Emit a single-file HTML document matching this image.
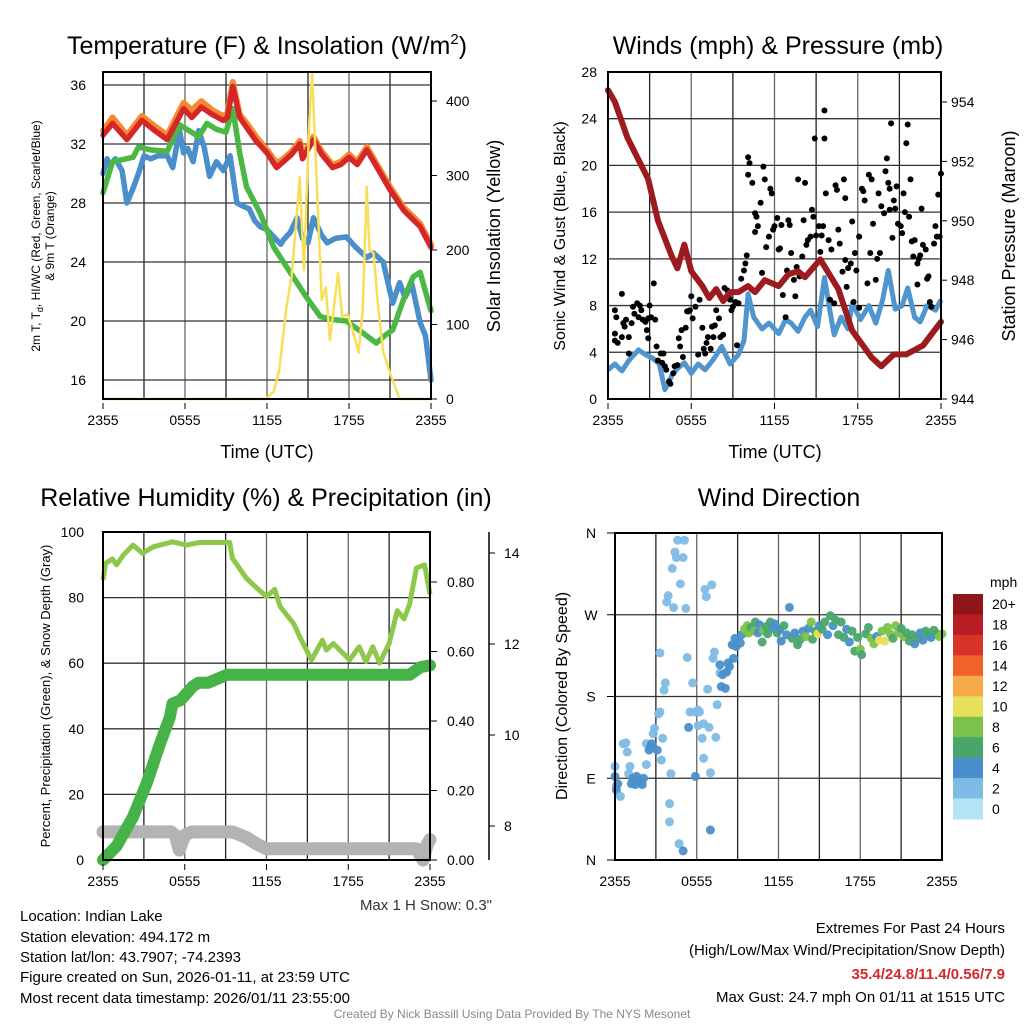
<!DOCTYPE html>
<html><head><meta charset="utf-8"><style>
body{margin:0;background:#fff;}
svg{display:block;font-family:"Liberation Sans",Arial,sans-serif;}
</style></head><body>
<svg id="s" width="1024" height="1024" viewBox="0 0 1024 1024" xmlns="http://www.w3.org/2000/svg">
<rect width="1024" height="1024" fill="#fff"/>
<g id="g1"></g>
<g id="g2"></g>
<g id="g3"></g>
<g id="g4"></g>
<g id="txt">
<text x="20" y="921" font-size="15">Location: Indian Lake</text>
<text x="20" y="942" font-size="15">Station elevation: 494.172 m</text>
<text x="20" y="962" font-size="15">Station lat/lon: 43.7907; -74.2393</text>
<text x="20" y="982" font-size="15">Figure created on Sun, 2026-01-11, at 23:59 UTC</text>
<text x="20" y="1003" font-size="15">Most recent data timestamp: 2026/01/11 23:55:00</text>
<text x="1005" y="933" font-size="15" text-anchor="end">Extremes For Past 24 Hours</text>
<text x="1005" y="955" font-size="15" text-anchor="end">(High/Low/Max Wind/Precipitation/Snow Depth)</text>
<text x="1005" y="979" font-size="15" font-weight="bold" fill="#d62728" text-anchor="end">35.4/24.8/11.4/0.56/7.9</text>
<text x="1005" y="1002" font-size="15" text-anchor="end">Max Gust: 24.7 mph On 01/11 at 1515 UTC</text>
<text x="512" y="1018" font-size="12" fill="#888" text-anchor="middle">Created By Nick Bassill Using Data Provided By The NYS Mesonet</text>
<text x="492" y="910" font-size="15" fill="#333" text-anchor="end">Max 1 H Snow: 0.3"</text>
</g>
</svg>
<script>
// ---- Panel 1 data ----
const timeLabels = ["2355","0555","1155","1755","2355"];
const tempTicks = [16,20,24,28,32,36];
const solarTicks = [0,100,200,300,400];
const redT = [0,0.7,1.75,2.85,3.8,4.7,5.9,6.5,7.2,8,8.8,9.1,9.5,10,10.6,11.2,12,12.7,13.2,13.8,14.4,14.6,15.4,16,16.8,17.4,18,18.6,19.3,20,21,22,23.2,24];
const redV = [32.6,33.4,32.3,33.6,32.9,32.3,34.4,33.8,34.5,34.0,33.6,33.8,35.9,33.8,33.0,32.2,31.4,30.4,30.8,31.3,32.0,31.0,32.3,31.3,30.4,30.6,31.1,30.6,31.6,30.5,28.9,27.5,26.4,25.0];
const orangeV = [32.9,33.8,32.6,33.9,33.2,32.6,34.8,34.3,34.9,34.3,33.9,34.1,36.2,34.0,33.3,32.5,31.6,30.7,31.0,31.5,32.2,31.2,32.5,31.5,30.6,30.8,31.3,30.8,31.8,30.7,29.1,27.7,26.6,25.2];
const greenT = [0,0.7,2.2,2.6,3.5,4.7,5.6,6.3,7,7.6,8.3,9,9.5,10,10.5,11.5,12.5,13.2,13.9,14.9,15.9,16.8,17.8,19,20,20.6,21.2,22,22.7,23.2,23.6,24];
const greenV = [28.7,30.8,31.1,31.8,31.6,31.5,33.3,32.9,32.5,33.4,33.0,32.8,34.4,31.4,29.1,27.3,25.0,24.0,23.0,21.6,20.3,20.1,20.0,19.2,18.5,19.0,19.4,21.5,23.0,23.3,22.0,20.7];
const blueT = [0,0.3,0.5,0.9,1.4,1.75,2.2,2.6,3,3.5,4,4.7,5.1,5.6,5.9,6.2,6.6,7,7.4,7.8,8.3,8.8,9.3,9.8,10.2,10.7,11.1,11.5,12,12.5,13,13.2,13.7,14.2,14.6,15,15.4,16,16.4,17,17.8,18.5,19.3,19.8,20.5,21.2,21.7,22.1,22.6,23.2,23.6,24];
const blueV = [30.0,31.0,30.5,31.0,30.2,28.0,29.0,30.0,31.2,31.0,31.2,31.2,30.4,32.9,31.4,31.7,30.8,32.9,31.8,29.8,30.8,30.2,31.2,28.0,27.8,27.6,26.8,26.4,26.2,25.7,25.2,25.5,26.0,27.0,25.6,25.3,27.0,25.8,25.3,25.6,25.7,25.0,24.3,24.6,24.0,21.2,22.6,21.6,22.5,19.9,19.0,16.0];
const solarT = [0,11.9,12.5,12.9,13.4,13.8,14.1,14.4,14.7,15.1,15.3,15.6,16,16.3,16.6,17.2,17.5,17.9,18.3,18.7,19.0,19.3,19.5,19.8,20.1,20.5,21,21.7,24];
const solarV = [0,0,10,39,120,164,230,298,173,375,437,307,133,150,79,169,110,114,90,62,120,285,200,196,130,63,35,0,0];
// ---- Panel 2 data ----
const windTicks = [0,4,8,12,16,20,24,28];
const presTicks = [944,946,948,950,952,954];
const presT = [0,0.5,1.4,2.9,3.6,4.6,5,5.5,6,6.8,7.3,7.8,8.3,8.8,9.4,10.1,10.6,11.3,12.3,13,13.7,14.2,15.3,16.6,17.6,19,19.7,20.6,21.5,22.7,24];
const presV = [954.4,954.0,952.8,951.4,950.0,948.8,948.4,949.2,948.3,947.8,947.4,947.7,947.3,947.6,947.6,947.8,947.6,948.0,947.8,948.2,948.3,948.1,948.7,947.7,946.3,945.4,945.1,945.5,945.5,945.8,946.6];
const windT = [0,0.5,1,1.5,2.2,2.7,3.2,3.7,4.1,4.6,5,5.5,6,6.5,7,7.6,8.2,8.8,9.4,9.8,10.1,10.5,11.1,11.6,12.3,12.8,13.2,13.7,14.2,14.6,15.1,15.6,16,16.3,16.8,17.3,17.6,18.2,18.8,19.3,19.8,20.2,20.7,21.2,21.6,22.1,22.5,23,23.6,24];
const windV = [2.5,3.0,2.4,3.3,4.2,3.8,3.5,3.0,0.8,2.0,2.6,3.1,2.2,3.0,2.5,3.4,4.5,3.0,3.8,5.0,9.0,7.0,6.0,6.5,5.6,6.8,6.5,5.8,7.0,7.6,6.2,10.4,7.5,5.5,7.0,6.0,8.2,6.8,8.0,6.5,8.5,11.0,7.7,8.0,9.5,7.0,6.6,8.0,7.6,8.5];
const gustT = [0.5,0.6,0.5,0.5,0.7,1.0,1.1,1.0,1.2,1.3,1.5,1.5,1.7,1.8,1.9,2.1,2.2,2.3,2.4,2.5,2.7,2.8,2.9,2.9,3.0,3.1,3.3,3.4,3.5,3.6,3.8,3.9,4.0,4.1,4.2,4.4,4.5,4.7,4.8,5.0,5.2,5.1,5.3,5.4,5.6,5.7,5.8,5.9,6.0,6.1,6.3,6.5,6.6,6.8,6.9,7.0,7.1,7.2,7.4,7.5,7.6,7.7,7.8,8.0,8.1,8.3,8.4,8.6,8.7,8.8,8.9,9.0,9.2,9.3,9.4,9.6,9.8,9.9,10.0,10.1,10.2,10.1,10.4,10.6,10.7,10.6,10.8,11.0,11.1,11.2,11.3,11.4,11.6,11.7,11.8,11.9,12.0,12.2,12.3,12.4,12.5,12.6,12.8,12.9,13.0,13.1,13.2,13.4,13.5,13.6,13.7,13.8,14.0,14.1,14.2,14.3,14.4,14.6,14.7,14.8,14.9,15.0,15.2,15.3,15.4,15.5,15.6,15.6,15.7,15.9,16.0,16.1,16.3,16.4,16.5,16.6,16.7,16.9,17.0,17.1,17.1,17.2,17.3,17.5,17.6,17.7,17.8,17.9,18.1,18.1,18.3,18.4,18.5,18.7,18.8,18.9,19.0,19.1,19.3,19.4,19.5,19.6,19.7,19.9,20.0,20.1,20.2,20.3,20.3,20.4,20.5,20.6,20.7,20.8,20.9,21.1,21.2,21.3,21.4,21.5,21.6,21.7,21.8,21.9,22.0,22.1,22.3,22.3,22.4,22.5,22.6,22.7,22.9,23.0,23.1,23.2,23.3,23.5,23.6,23.7,23.8,23.9,24.0];
const gustV = [7.6,7.0,5.6,5.0,4.8,5.3,6.5,9.0,6.2,6.8,5.3,3.9,6.5,7.9,7.3,8.2,7.0,8.0,7.6,6.8,6.6,5.9,6.9,5.2,8.0,7.0,9.9,6.8,4.5,3.3,3.9,3.1,3.9,2.8,2.5,1.5,1.3,2.2,2.8,2.9,4.5,5.2,5.9,3.6,6.1,7.5,7.5,7.6,8.8,6.9,7.9,3.8,8.5,6.1,4.3,3.9,4.8,5.3,4.3,6.2,5.3,6.3,7.6,6.9,5.3,5.5,9.5,9.3,8.8,8.5,7.6,7.9,8.3,4.6,8.2,10.3,11.0,11.6,12.3,20.7,20.2,19.2,18.5,15.9,15.6,14.3,14.8,16.8,10.8,19.9,18.8,13.0,13.9,18.0,17.6,14.5,14.8,15.5,12.8,12.9,14.9,8.9,7.0,11.0,15.3,14.9,12.5,10.2,8.8,11.3,18.8,10.5,12.2,15.3,18.5,13.2,13.6,13.9,16.2,15.6,22.3,14.0,14.8,12.6,14.0,14.8,24.7,22.3,17.6,13.6,8.5,12.8,8.2,18.3,17.9,14.5,13.3,10.9,18.8,17.2,11.9,9.6,11.2,11.6,15.2,8.3,12.5,11.0,13.9,7.8,18.0,17.8,17.0,9.9,19.2,12.5,18.8,15.0,10.2,12.0,17.6,12.5,16.5,15.9,19.5,20.6,18.5,18.0,16.2,23.6,13.8,17.0,16.3,18.2,15.0,14.8,14.2,17.6,16.0,21.9,23.5,15.6,18.8,13.5,12.2,13.6,11.6,9.8,12.0,12.3,16.3,13.2,12.8,10.3,10.5,8.3,7.9,13.3,14.8,13.9,17.5,13.9,19.3];
// ---- Panel 3 data ----
const pctTicks = [0,20,40,60,80,100];
const precipTicks = [0,0.2,0.4,0.6,0.8];
const precipLabels = ["0.00","0.20","0.40","0.60","0.80"];
const snowTicks = [8,10,12,14];
const rhT = [0,0.2,0.7,1,1.5,2.2,2.9,3.7,5.1,6.1,7.1,9.3,9.5,10.5,11,12,12.6,13,14,14.5,15.3,16.1,16.4,16.9,18.1,18.8,19.3,19.8,20.3,21,21.6,22.1,22.5,23,23.6,24];
const rhV = [85.4,90.5,91.8,90,93,96,93.5,95.5,97,96,96.8,96.8,92,86,84,80.3,82.5,77.3,72,67.5,61,67,64,66,61,65,60.5,65,60,66,76,73.5,78,89,90,81];
const prT = [0,1,2.2,3.2,4.2,4.9,5.1,5.7,6.6,7.0,7.7,9.1,22.5,23.3,24];
const prV = [0,0.04,0.124,0.22,0.336,0.41,0.45,0.46,0.50,0.51,0.51,0.533,0.533,0.555,0.56];
const snT = [0,5,5.3,5.6,6,6.5,9.5,10.5,11.3,12,23,23.5,23.8,24];
const snV = [7.87,7.87,7.8,7.47,7.8,7.87,7.87,7.75,7.6,7.5,7.5,7.25,7.6,7.7];
// ---- Panel 4 data ----
const dirLabels = ["N","E","S","W","N"];
const dirTicks = [0,90,180,270,360];
const speedLabels = ["20+","18","16","14","12","10","8","6","4","2","0"];
const dirT = [0.0,0.0,0.1,0.1,0.2,0.4,0.6,0.8,0.9,1.0,1.1,1.2,1.3,1.5,1.6,1.8,2.0,2.1,2.3,2.3,2.5,2.6,2.7,2.8,2.9,3.1,3.2,3.3,3.3,3.4,3.5,3.7,3.6,3.8,3.9,4.0,4.0,4.1,4.2,4.3,4.4,4.5,4.6,4.7,4.8,5.0,5.0,5.1,5.2,5.3,5.4,5.5,5.7,5.9,5.9,6.1,6.1,6.2,6.4,6.5,6.5,6.6,6.7,6.8,6.9,7.0,7.0,7.1,7.2,7.3,7.4,7.5,7.7,7.7,7.8,7.9,8.1,8.2,8.3,8.4,8.6,8.7,8.8,8.9,9.2,9.3,
9.5,9.7,9.8,10.0,10.2,10.3,10.5,10.6,10.8,10.9,11.1,11.2,11.4,11.6,11.7,11.9,12.1,12.2,12.8,12.4,12.6,13.0,13.2,13.4,13.6,13.8,14.0,14.2,14.4,14.5,14.7,14.9,15.0,15.2,15.4,15.6,15.8,16.0,16.2,16.4,16.6,16.8,17.0,17.2,17.4,17.6,17.8,18.0,18.1,18.4,18.6,18.8,19.0,19.2,19.4,19.6,19.8,20.0,20.2,20.4,20.6,20.8,21.0,21.2,21.4,21.6,21.8,22.0,22.2,22.4,22.6,22.8,23.0,23.2,23.4,23.6,23.8,24.0];
const dirV = [103,92,81,77,84,70,128,129,119,95,103,84,90,83,92,88,83,90,105,128,121,125,128,139,145,121,161,228,163,110,134,195,187,284,291,62,42,95,321,278,339,333,352,18,304,10,333,352,277,223,146,163,195,163,92,165,148,163,134,112,150,298,290,188,146,96,33,303,222,229,135,171,206,215,191,204,189,207,217,213,237,222,244,235,239,248,
254,258,250,256,252,262,250,259,240,253,257,249,262,255,260,250,254,241,278,258,248,244,250,237,243,252,246,255,262,243,252,249,258,254,262,248,269,258,264,248,262,245,254,240,252,230,245,232,226,249,256,244,238,246,242,252,241,256,249,244,258,250,255,246,250,241,248,238,244,250,242,252,248,245,253,249,246,249];
const dirS = [2,3,2,3,3,2,2,2,2,2,2,3,4,4,4,4,4,4,2,2,3,4,4,2,2,3,1,1,1,2,2,1,1,1,1,1,1,1,1,1,2,1,2,1,2,3,2,2,2,2,4,2,2,2,3,2,2,2,2,2,2,2,2,1,1,2,3,2,2,2,2,2,2,3,4,4,4,4,4,4,4,4,4,4,4,4,
8,8,8,6,8,6,4,4,6,8,6,6,6,4,4,6,4,4,4,6,4,6,4,6,6,4,8,4,8,6,6,10,4,6,6,4,6,4,6,6,6,6,4,4,6,6,6,8,6,6,6,8,8,4,10,8,10,8,8,6,8,8,6,8,6,6,6,4,6,4,4,6,6,4,6,6,8,8];

const svg = document.getElementById('s');
const NS = 'http://www.w3.org/2000/svg';
function mk(parent, tag, attrs, text){
  const e = document.createElementNS(NS, tag);
  for (const k in attrs) e.setAttribute(k, attrs[k]);
  if (text !== undefined) e.textContent = text;
  parent.appendChild(e);
  return e;
}
function pathFrom(ts, vs, fx, fy){
  return ts.map((t,i)=>(i?'L':'M')+fx(t).toFixed(1)+','+fy(vs[i]).toFixed(1)).join(' ');
}
function frame(g, x0, x1, y0, y1, hLines, prefix){
  for (let h=0; h<=8; h++){
    const x = x0 + (x1-x0)*h/8;
    const l = mk(g,'line',{x1:x,x2:x,y1:y0,y2:y1,stroke:(h%2?'#222':'#666'),'stroke-width':1.3});
    
    
  }
  hLines.forEach(y=>{
    const l = mk(g,'line',{x1:x0,x2:x1,y1:y,y2:y,stroke:'#333','stroke-width':1.3});
    
    
  });
}
function border(g, x0, x1, y0, y1, prefix){
  const r = mk(g,'rect',{x:x0,y:y0,width:x1-x0,height:y1-y0,fill:'none',stroke:'#000','stroke-width':2});
  
  
}
function xAxisLabels(g, x0, x1, y, prefix){
  timeLabels.forEach((lab,i)=>{
    const x = x0 + (x1-x0)*i/4;
    mk(g,'line',{x1:x,x2:x,y1:y-22,y2:y-16,stroke:'#000','stroke-width':1});
    const t = mk(g,'text',{x:x,y:y,'font-size':14,'text-anchor':'middle'},lab);
    
    
  });
}
function label(g, x, y, txt, size, anchor, rot, name, extra){
  const a = {x:x,y:y,'font-size':size,'text-anchor':anchor||'start'};
  if (rot) a.transform = 'rotate('+rot+' '+x+' '+y+')';
  if (extra) for (const k in extra) a[k]=extra[k];
  const t = mk(g,'text',a,txt);
  
  
  return t;
}

// ===== Panel 1 =====
(function(){
  const g = document.getElementById('g1');
  const x0=103,x1=431,y0=72,y1=399;
  const X = t => x0 + (x1-x0)*t/24;
  const YT = v => 380 - (v-16)*14.75;
  const YS = v => 399 - v*0.745;
  frame(g,x0,x1,y0,y1,tempTicks.map(YT),'temp');
  tempTicks.forEach(v=>label(g,86,YT(v)+5,String(v),14,'end',0,'temp-y-tick-label'));
  solarTicks.forEach(v=>{
    mk(g,'line',{x1:x1,x2:x1+6,y1:YS(v),y2:YS(v),stroke:'#000'});
    label(g,446,YS(v)+5,String(v),14,'start',0,'solar-y-tick-label');
  });
  const series = [[blueT,blueV,'#4a8fcb',5.5,YT,'wind-chill-line'],[greenT,greenV,'#4cb844',5.5,YT,'dewpoint-line'],
    [redT,orangeV,'#f58a33',6,YT,'9m-temp-line'],[redT,redV,'#d62728',5.5,YT,'2m-temp-line'],[solarT,solarV,'#f7df5a',2.5,YS,'solar-line']];
  series.forEach(s=>{
    const p = mk(g,'path',{d:pathFrom(s[0],s[1],X,s[4]),fill:'none',stroke:s[2],'stroke-width':s[3],'stroke-linejoin':'round','stroke-linecap':'round'});
    
    
  });
  border(g,x0,x1,y0,y1,'temp');
  xAxisLabels(g,x0,x1,425,'temp');
  const tt = mk(g,'text',{x:267,y:54,'font-size':25,'text-anchor':'middle'});
  tt.innerHTML = 'Temperature (F) &amp; Insolation (W/m<tspan dy="-10" font-size="15">2</tspan><tspan dy="10">)</tspan>';
  
  
  label(g,267,458,'Time (UTC)',18,'middle',0,'temp-x-axis-title');
  const yl = mk(g,'text',{x:40,y:236,'font-size':12,'text-anchor':'middle',transform:'rotate(-90 40 236)'});
  yl.innerHTML = '2m T, T<tspan dy="3" font-size="9">d</tspan><tspan dy="-3">, HI/WC (Red, Green, Scarlet/Blue)</tspan>';
  
  
  label(g,54,236,'& 9m T (Orange)',12,'middle',-90,'temp-y-axis-title-2');
  label(g,500,236,'Solar Insolation (Yellow)',18,'middle',-90,'solar-y-axis-title');
})();

// ===== Panel 2 =====
(function(){
  const g = document.getElementById('g2');
  const x0=608,x1=941,y0=72,y1=399;
  const X = t => x0 + (x1-x0)*t/24;
  const YW = v => 399 - v*11.68;
  const YP = p => 399 - (p-944)*29.7;
  frame(g,x0,x1,y0,y1,windTicks.map(YW),'wind');
  windTicks.forEach(v=>label(g,597,YW(v)+5,String(v),14,'end',0,'wind-y-tick-label'));
  presTicks.forEach(v=>{
    mk(g,'line',{x1:x1,x2:x1+6,y1:YP(v),y2:YP(v),stroke:'#000'});
    label(g,951,YP(v)+5,String(v),14,'start',0,'pressure-y-tick-label');
  });
  const w = mk(g,'path',{d:pathFrom(windT,windV,X,YW),fill:'none',stroke:'#4f95d0','stroke-width':5,'stroke-linejoin':'round'});
  
  
  gustT.forEach((t,i)=>{
    const c = mk(g,'circle',{cx:X(t),cy:YW(gustV[i]),r:3,fill:'#000'});
    
    
  });
  const p = mk(g,'path',{d:pathFrom(presT,presV,X,YP),fill:'none',stroke:'#9b1b1e','stroke-width':6,'stroke-linejoin':'round','stroke-linecap':'round'});
  
  
  border(g,x0,x1,y0,y1,'wind');
  xAxisLabels(g,x0,x1,425,'wind');
  label(g,778,54,'Winds (mph) & Pressure (mb)',25,'middle',0,'winds-chart-title');
  label(g,775,458,'Time (UTC)',18,'middle',0,'wind-x-axis-title');
  label(g,565,236,'Sonic Wind & Gust (Blue, Black)',16,'middle',-90,'wind-y-axis-title');
  label(g,1015,236,'Station Pressure (Maroon)',18,'middle',-90,'pressure-y-axis-title');
})();

// ===== Panel 3 =====
(function(){
  const g = document.getElementById('g3');
  const x0=103,x1=430,y0=532,y1=860;
  const X = t => x0 + (x1-x0)*t/24;
  const YR = v => 860 - v*3.28;
  const YPr = v => 860 - v*347.5;
  const YSn = v => 826 - (v-8)*45.5;
  frame(g,x0,x1,y0,y1,pctTicks.map(YR),'rh');
  pctTicks.forEach(v=>label(g,84,YR(v)+5,String(v),14,'end',0,'rh-y-tick-label'));
  precipTicks.forEach((v,i)=>{
    mk(g,'line',{x1:x1,x2:x1+7,y1:YPr(v),y2:YPr(v),stroke:'#000'});
    label(g,447,YPr(v)+5,precipLabels[i],14,'start',0,'precip-y-tick-label');
  });
  const sa = mk(g,'line',{x1:489,x2:489,y1:532,y2:860,stroke:'#000','stroke-width':1.5});
  
  
  snowTicks.forEach(v=>{
    mk(g,'line',{x1:489,x2:495,y1:YSn(v),y2:YSn(v),stroke:'#000'});
    label(g,504,YSn(v)+5,String(v),14,'start',0,'snow-y-tick-label');
  });
  const s1 = mk(g,'path',{d:pathFrom(snT,snV,X,YSn),fill:'none',stroke:'#b3b3b3','stroke-width':13,'stroke-linejoin':'round','stroke-linecap':'round'});
  
  
  const s2 = mk(g,'path',{d:pathFrom(prT,prV,X,YPr),fill:'none',stroke:'#46b348','stroke-width':12,'stroke-linejoin':'round','stroke-linecap':'round'});
  
  
  const s3 = mk(g,'path',{d:pathFrom(rhT,rhV,X,YR),fill:'none',stroke:'#8dc84a','stroke-width':5,'stroke-linejoin':'round'});
  
  
  border(g,x0,x1,y0,y1,'rh');
  xAxisLabels(g,x0,x1,886,'rh');
  label(g,266,506,'Relative Humidity (%) & Precipitation (in)',25,'middle',0,'rh-chart-title');
  label(g,50,696,'Percent, Precipitation (Green), & Snow Depth (Gray)',13,'middle',-90,'rh-y-axis-title');
})();

// ===== Panel 4 =====
(function(){
  const g = document.getElementById('g4');
  const x0=615,x1=942,y0=533,y1=860;
  const X = t => x0 + (x1-x0)*t/24;
  const YD = d => 860 - d*0.9083;
  frame(g,x0,x1,y0,y1,dirTicks.map(YD),'dir');
  dirTicks.forEach((v,i)=>{
    mk(g,'line',{x1:x0-8,x2:x0,y1:YD(v),y2:YD(v),stroke:'#000','stroke-width':1});
    label(g,591,YD(v)+5,dirLabels[i],14,'middle',0,'dir-y-tick-label');
  });
  const cols = ['#b5e3f6','#80bbe5','#4a8fc9','#49a66b','#7cc24a','#e6e05a','#f6aa47','#ef6229','#d93229','#b81c24','#8e1518'];
  dirT.forEach((t,i)=>{
    const c = mk(g,'circle',{cx:X(t),cy:YD(dirV[i]),r:4.5,fill:cols[Math.min(10,Math.round(dirS[i]/2))],'fill-opacity':0.95});
    
    
  });
  border(g,x0,x1,y0,y1,'dir');
  timeLabels.forEach((lab,i)=>{
    const x = x0 + (x1-x0)*i/4;
    label(g,x,886,lab,14,'middle',0,'dir-x-tick-label');
  });
  label(g,779,506,'Wind Direction',25,'middle',0,'dir-chart-title');
  label(g,567,696,'Direction (Colored By Speed)',16,'middle',-90,'dir-y-axis-title');
  const h = 225/11;
  speedLabels.forEach((lab,i)=>{
    const r = mk(g,'rect',{x:953,y:594+i*h,width:30,height:h+0.5,fill:cols[10-i]});
    
    
    label(g,992,594+i*h+h/2+5,lab,14,'start',0,'colorbar-label');
  });
  label(g,990,587,'mph',14,'start',0,'colorbar-title');
})();
</script>
</body></html>
